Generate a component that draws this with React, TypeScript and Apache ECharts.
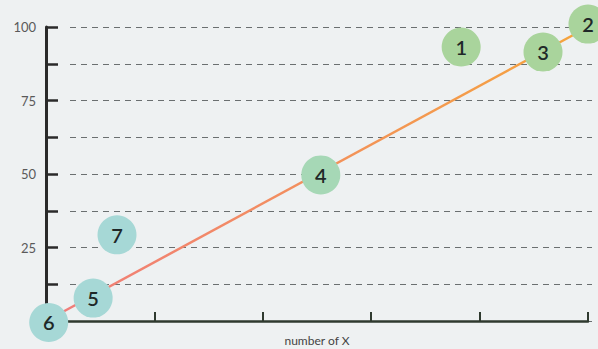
import React, { useEffect, useRef } from "react";
import * as echarts from "echarts";

const pointLabels = ["1", "2", "3", "4", "5", "6", "7"];
const pointX = [76.6, 100, 91.7, 50.7, 8.7, 0.5, 13.1];
const pointY = [93.2, 101, 91.5, 49.7, 7.8, -0.5, 29.3];
const pointColors = ["#a9d49c", "#a9d49c", "#a9d49c", "#a6d8b6", "#a6d8d6", "#a6d8d6", "#a6d8d6"];
const trendX = [0, 100];
const trendY = [0, 100];
const yTickLabels = ["25", "50", "75", "100"];
const xAxisName = "number of X";

export default function App() {
  const ref = useRef<HTMLDivElement>(null);
  useEffect(() => {
    if (!ref.current) return;
    const chart = echarts.init(ref.current, null, { renderer: "svg" });
    const font = "Lato, 'Open Sans', sans-serif";
    chart.setOption({
      animation: false,
      backgroundColor: "#eef1f2",
      grid: [
        { left: 46, right: 10, top: 27, bottom: 28, outerBoundsMode: "none", containLabel: false },
        { left: 70, right: 6, top: 27, bottom: 28, outerBoundsMode: "none", containLabel: false },
      ],
      xAxis: [
        {
          gridIndex: 0,
          type: "value",
          min: 0,
          max: 100,
          interval: 20,
          name: xAxisName,
          nameLocation: "middle",
          nameGap: 13,
          nameTextStyle: { color: "#444", fontSize: 12, fontFamily: font },
          axisLine: { show: true, lineStyle: { color: "#2f3a2f", width: 2.5 } },
          axisTick: { show: true, inside: true, length: 9, lineStyle: { color: "#2f3a2f", width: 2 } },
          axisLabel: { show: false },
          splitLine: { show: false },
        },
        {
          gridIndex: 1,
          type: "value",
          min: 0,
          max: 100,
          show: false,
          splitLine: { show: false },
        },
      ],
      yAxis: [
        {
          gridIndex: 0,
          type: "value",
          min: 0,
          max: 100,
          interval: 12.5,
          axisLine: { show: true, lineStyle: { color: "#2a2a2a", width: 3 } },
          axisTick: { show: true, inside: true, length: 12, lineStyle: { color: "#2a2a2a", width: 2.5 } },
          axisLabel: {
            color: "#5a5a5a",
            fontSize: 13,
            fontFamily: font,
            margin: 10,
            formatter: (v: number) => {
              const s = String(Math.round(v));
              return v > 0 && v % 25 === 0 && yTickLabels.includes(s) ? s : "";
            },
          },
          splitLine: { show: false },
        },
        {
          gridIndex: 1,
          type: "value",
          min: 0,
          max: 100,
          interval: 12.5,
          axisLine: { show: false },
          axisTick: { show: false },
          axisLabel: { show: false },
          splitLine: {
            show: true,
            lineStyle: { color: "#6a6f70", width: 1, type: [6, 5] },
          },
        },
      ],
      series: [
        {
          type: "line",
          xAxisIndex: 0,
          yAxisIndex: 0,
          data: trendX.map((x, i) => [x, trendY[i]]),
          symbol: "none",
          z: 2,
          lineStyle: {
            width: 2.5,
            color: new echarts.graphic.LinearGradient(0, 1, 1, 0, [
              { offset: 0, color: "#f07c7c" },
              { offset: 1, color: "#f5a53c" },
            ]),
          },
        },
        {
          type: "scatter",
          xAxisIndex: 0,
          yAxisIndex: 0,
          clip: false,
          z: 3,
          symbolSize: 39,
          data: pointX.map((x, i) => ({
            value: [x, pointY[i]],
            name: pointLabels[i],
            itemStyle: { color: pointColors[i], opacity: 1 },
          })),
          label: {
            show: true,
            position: "inside",
            formatter: (p: any) => p.name,
            color: "#1f2828",
            fontSize: 20,
            fontFamily: font,
            fontWeight: 600,
          },
        },
      ],
    });
    return () => chart.dispose();
  }, []);
  return (
    <div
      ref={ref}
      style={{ position: "fixed", left: 0, top: 0, width: 598, height: 349 }}
    />
  );
}
